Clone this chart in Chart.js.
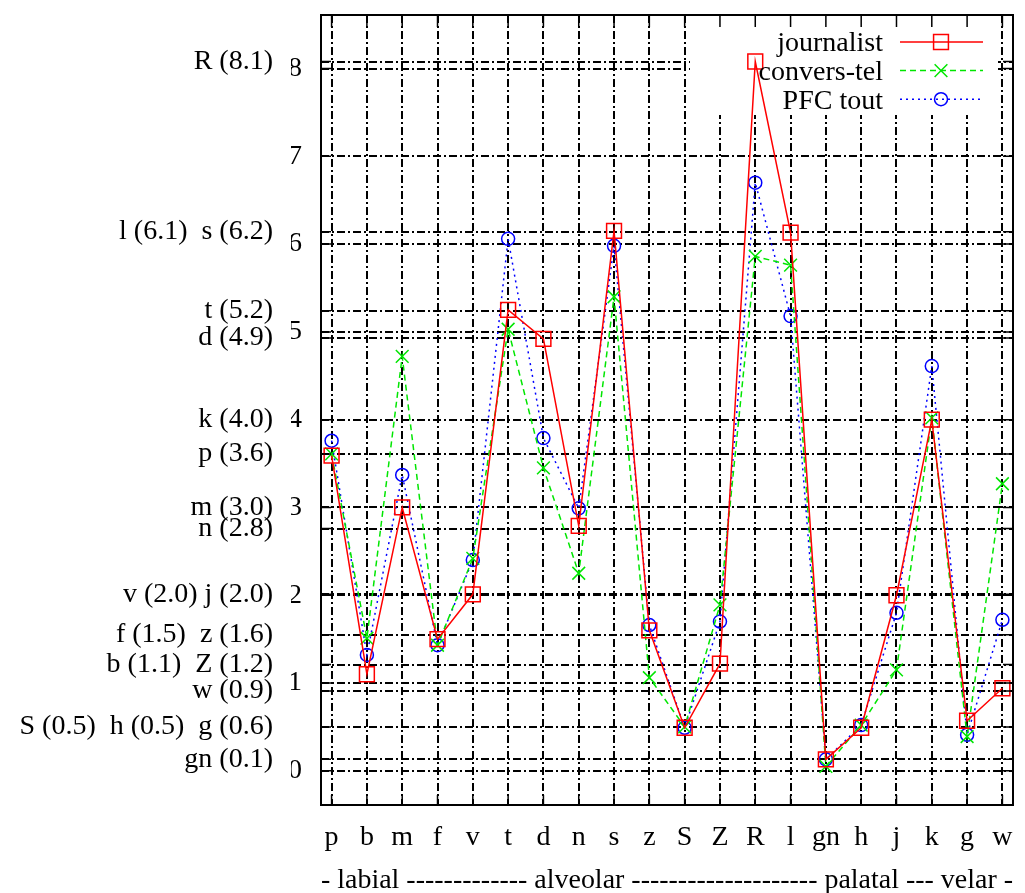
<!DOCTYPE html>
<html>
<head>
<meta charset="utf-8">
<script src="https://cdn.jsdelivr.net/npm/chart.js@4.4.0/dist/chart.umd.min.js"></script>
<style>
  html, body { margin: 0; padding: 0; background: #fff; }
</style>
</head>
<body>
<canvas id="graphCanvas" width="1025" height="893"></canvas>
<script>
// phonemes on the x axis
const phonemes = ["p", "b", "m", "f", "v", "t", "d", "n", "s", "z", "S", "Z", "R", "l", "gn", "h", "j", "k", "g", "w"];

// values
const journalist = [3.59, 1.10, 3.00, 1.50, 2.01, 5.25, 4.92, 2.79, 6.15, 1.60, 0.49, 1.22, 8.08, 6.13, 0.13, 0.49, 2.00, 4.00, 0.57, 0.94];
const conversTel = [3.61, 1.51, 4.72, 1.43, 2.42, 5.03, 3.45, 2.25, 5.40, 1.06, 0.50, 1.89, 5.86, 5.76, 0.05, 0.52, 1.15, 4.02, 0.39, 3.27];
const pfcTout = [3.76, 1.32, 3.37, 1.43, 2.40, 6.06, 3.79, 2.99, 5.98, 1.66, 0.49, 1.70, 6.70, 5.18, 0.13, 0.52, 1.80, 4.61, 0.41, 1.72];

// y tick labels
const numberTicks = [0, 1, 2, 3, 4, 5, 6, 7, 8];
const labelTickValues = [8.08, 6.14, 5.24, 4.93, 4.0, 3.61, 3.0, 2.76, 2.01, 1.55, 1.21, 0.91, 0.50, 0.13];
const labelTickTexts = ["R (8.1)", "l (6.1)  s (6.2)", "t (5.2)", "d (4.9)", "k (4.0)", "p (3.6)", "m (3.0)", "n (2.8)",
  "v (2.0) j (2.0)", "f (1.5)  z (1.6)", "b (1.1)  Z (1.2)", "w (0.9)", "S (0.5)  h (0.5)  g (0.6)", "gn (0.1)"];

const groupTitle = "- labial ------------- alveolar -------------------- palatal --- velar -";

const serif = "'Liberation Serif', 'Times New Roman', serif";
const gridDash = [8, 3, 2, 3];

function toPoints(values) {
  return values.map(function (v, i) { return { x: i, y: v }; });
}

var chartData = {
  datasets: [
    {
      label: "journalist",
      data: toPoints(journalist),
      borderColor: "#ff0000",
      borderWidth: 1.5,
      pointStyle: "rect",
      pointRadius: 10.5,
      pointBorderWidth: 1.5,
      pointBackgroundColor: "rgba(0,0,0,0)",
      pointBorderColor: "#ff0000",
    },
    {
      label: "convers-tel",
      data: toPoints(conversTel),
      borderColor: "#00e600",
      borderWidth: 1.5,
      borderDash: [6, 4],
      pointStyle: "crossRot",
      pointRadius: 9,
      pointBorderWidth: 1.5,
      pointBackgroundColor: "rgba(0,0,0,0)",
      pointBorderColor: "#00e600",
    },
    {
      label: "PFC tout",
      data: toPoints(pfcTout),
      borderColor: "#0000ff",
      borderWidth: 1.5,
      borderDash: [2, 4],
      pointStyle: "circle",
      pointRadius: 6.5,
      pointBorderWidth: 1.5,
      pointBackgroundColor: "rgba(0,0,0,0)",
      pointBorderColor: "#0000ff",
    },
  ],
};

// white legend box inside the plot, frame and inward tick marks like gnuplot
var framePlugin = {
  id: "frame",
  beforeDatasetsDraw: function (chart) {
    var ctx = chart.ctx;
    ctx.save();
    ctx.fillStyle = "#ffffff";
    ctx.fillRect(690, chart.chartArea.top, 308, 100);
    ctx.restore();
  },
  afterDatasetsDraw: function (chart) {
    var ctx = chart.ctx;
    ctx.save();
    chart.data.datasets.forEach(function (ds, i) {
      var y = 42 + i * 28.6;
      ctx.font = "28px " + serif;
      ctx.fillStyle = "#000";
      ctx.textAlign = "right";
      ctx.textBaseline = "middle";
      ctx.fillText(ds.label, 883, y + 2);
      ctx.strokeStyle = ds.borderColor;
      ctx.lineWidth = ds.borderWidth;
      ctx.setLineDash(ds.borderDash || []);
      ctx.beginPath();
      ctx.moveTo(900, y);
      ctx.lineTo(983, y);
      ctx.stroke();
      ctx.setLineDash([]);
      ctx.fillStyle = "rgba(0,0,0,0)";
      Chart.helpers.drawPoint(ctx, {
        pointStyle: ds.pointStyle,
        radius: ds.pointRadius,
        rotation: 0,
        borderWidth: ds.pointBorderWidth,
      }, 941, y);
    });
    ctx.restore();
  },
  afterDraw: function (chart) {
    var ctx = chart.ctx;
    var a = chart.chartArea;
    ctx.save();
    ctx.strokeStyle = "#000";
    ctx.lineWidth = 1.5;
    ctx.beginPath();
    chart.scales.x.ticks.forEach(function (t) {
      var px = chart.scales.x.getPixelForValue(t.value);
      ctx.moveTo(px, a.bottom); ctx.lineTo(px, a.bottom - 10);
      ctx.moveTo(px, a.top); ctx.lineTo(px, a.top + 12);
    });
    ["y", "yLab"].forEach(function (id) {
      var s = chart.scales[id];
      s.ticks.forEach(function (t) {
        var py = s.getPixelForValue(t.value);
        ctx.moveTo(a.left, py); ctx.lineTo(a.left + 10, py);
        ctx.moveTo(a.right, py); ctx.lineTo(a.right - 10, py);
      });
    });
    ctx.stroke();
    ctx.lineWidth = 2;
    ctx.strokeRect(a.left, a.top, a.right - a.left, a.bottom - a.top);
    ctx.restore();
  },
};

function fitY(width) {
  return function (scale) {
    scale.width = width;
    scale.paddingTop = 0;
    scale.paddingBottom = 0;
  };
}

var graphTarget = document.getElementById("graphCanvas");
var lineGraph = new Chart(graphTarget, {
  type: "line",
  data: chartData,
  plugins: [framePlugin],
  options: {
    responsive: false,
    animation: false,
    devicePixelRatio: 1,
    layout: { padding: { top: 15, right: 7, left: 0, bottom: 0 } },
    plugins: { legend: { display: false }, tooltip: { enabled: false } },
    scales: {
      x: {
        type: "linear",
        min: -0.3,
        max: 19.3,
        afterBuildTicks: function (scale) {
          scale.ticks = phonemes.map(function (_, i) { return { value: i }; });
        },
        afterFit: function (scale) {
          scale.height = 88;
          scale.paddingLeft = 0;
          scale.paddingRight = 0;
        },
        ticks: {
          autoSkip: false,
          maxRotation: 0,
          padding: 16,
          color: "#000",
          font: { family: serif, size: 28 },
          callback: function (v) { return phonemes[v]; },
        },
        grid: { color: "#000", lineWidth: 2, drawTicks: false },
        border: { display: false, dash: gridDash },
        title: {
          display: true,
          text: groupTitle,
          color: "#000",
          font: { family: serif, size: 28, lineHeight: 0.85 },
          padding: { top: 0, bottom: 0 },
        },
      },
      y: {
        type: "linear",
        position: "left",
        weight: 0,
        min: -0.39,
        max: 8.61,
        afterBuildTicks: function (scale) {
          scale.ticks = numberTicks.map(function (v) { return { value: v }; });
        },
        afterFit: fitY(30),
        ticks: {
          padding: 19,
          color: "#000",
          font: { family: serif, size: 28 },
          callback: function (v) { return String(v); },
        },
        grid: { color: "#000", lineWidth: 2, drawTicks: false },
        border: { display: false, dash: gridDash },
      },
      yLab: {
        type: "linear",
        position: "left",
        weight: 1,
        min: -0.39,
        max: 8.61,
        afterBuildTicks: function (scale) {
          scale.ticks = labelTickValues.map(function (v) { return { value: v }; });
        },
        afterFit: fitY(291),
        ticks: {
          padding: 18,
          color: "#000",
          font: { family: serif, size: 28 },
          callback: function (v, i) { return labelTickTexts[i]; },
        },
        grid: { color: "#000", lineWidth: 2, drawTicks: false },
        border: { display: false, dash: gridDash },
      },
    },
  },
});
</script>
</body>
</html>
